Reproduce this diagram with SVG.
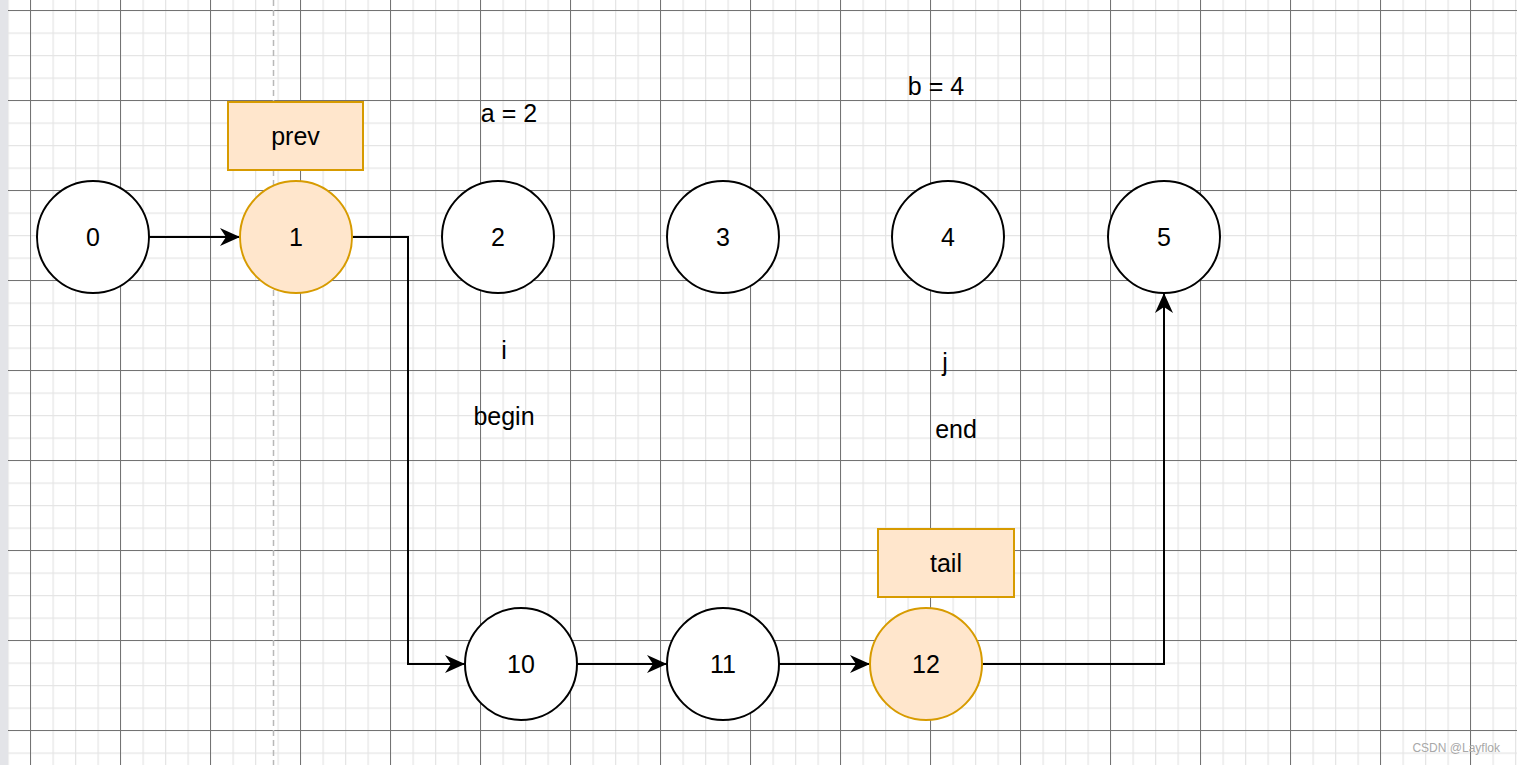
<svg xmlns="http://www.w3.org/2000/svg" width="1517" height="765" viewBox="0 0 1517 765">
<style>
.c{fill:#ffffff;stroke:#000000;stroke-width:2}
.h{fill:#ffe6cc;stroke:#d79b00;stroke-width:2}
.t{font-family:"Liberation Sans",Arial,sans-serif;font-size:25px;fill:#000000;text-anchor:middle;dominant-baseline:central}
.e{fill:none;stroke:#000000;stroke-width:2}
</style>
<defs>
<pattern id="minor" patternUnits="userSpaceOnUse" x="7.5" y="10" width="22.5" height="22.5">
<path d="M0 0V22.5M0 0H22.5" fill="none" stroke="#e5e5e5" stroke-width="2.5"/>
</pattern>
<pattern id="major" patternUnits="userSpaceOnUse" x="30" y="10" width="90" height="90">
<path d="M0.5 0V90M0 0.5H90" fill="none" stroke="#737373" stroke-width="1"/>
</pattern>
<marker id="arr" markerUnits="userSpaceOnUse" markerWidth="22" markerHeight="22" refX="20" refY="10" orient="auto">
<path d="M0 1L20 10L0 19L6 10Z" fill="#000000"/>
</marker>
</defs>
<rect width="1517" height="765" fill="#ffffff"/>
<rect width="1517" height="765" fill="url(#minor)"/>
<rect width="1517" height="765" fill="url(#major)"/>
<rect x="0" y="0" width="8" height="765" fill="#e3e4e8"/>
<line x1="273.5" y1="0" x2="273.5" y2="765" stroke="#b8b8b8" stroke-width="1.5" stroke-dasharray="6 4"/>
<g id="connectors">
<path class="e" d="M149 237H240" marker-end="url(#arr)"/>
<path class="e" d="M352 237H408V664H465" marker-end="url(#arr)"/>
<path class="e" d="M577 664H667" marker-end="url(#arr)"/>
<path class="e" d="M779 664H870" marker-end="url(#arr)"/>
<path class="e" d="M982 664H1164V293" marker-end="url(#arr)"/>
</g>
<g id="n0"><circle class="c" cx="93" cy="237" r="56"/><text class="t" x="93" y="237">0</text></g>
<g id="n1"><circle class="h" cx="296" cy="237" r="56"/><text class="t" x="296" y="237">1</text></g>
<g id="n2"><circle class="c" cx="498" cy="237" r="56"/><text class="t" x="498" y="237">2</text></g>
<g id="n3"><circle class="c" cx="723" cy="237" r="56"/><text class="t" x="723" y="237">3</text></g>
<g id="n4"><circle class="c" cx="948" cy="237" r="56"/><text class="t" x="948" y="237">4</text></g>
<g id="n5"><circle class="c" cx="1164" cy="237" r="56"/><text class="t" x="1164" y="237">5</text></g>
<g id="n10"><circle class="c" cx="521" cy="664" r="56"/><text class="t" x="521" y="664">10</text></g>
<g id="n11"><circle class="c" cx="723" cy="664" r="56"/><text class="t" x="723" y="664">11</text></g>
<g id="n12"><circle class="h" cx="926" cy="664" r="56"/><text class="t" x="926" y="664">12</text></g>
<g id="prev"><rect class="h" x="228" y="102" width="135" height="68"/><text class="t" x="295.5" y="136">prev</text></g>
<g id="tail"><rect class="h" x="878" y="529" width="136" height="68"/><text class="t" x="946" y="563">tail</text></g>
<g id="labels">
<text class="t" x="509" y="113">a = 2</text>
<text class="t" x="936" y="86">b = 4</text>
<text class="t" x="504" y="350">i</text>
<text class="t" x="504" y="416">begin</text>
<text class="t" x="945" y="362">j</text>
<text class="t" x="956" y="429">end</text>
</g>
<text x="1500" y="752" font-family="'Liberation Sans',Arial,sans-serif" font-size="12" fill="#a8a8a8" text-anchor="end">CSDN @Layflok</text>
</svg>
